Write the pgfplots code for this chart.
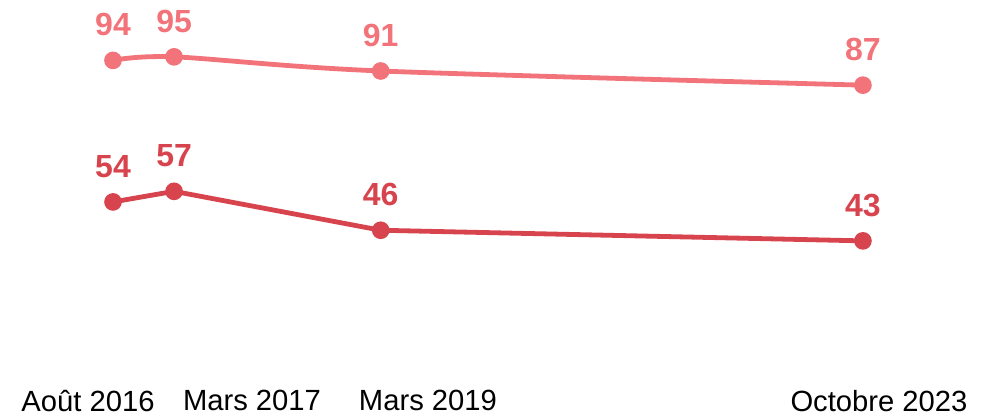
\documentclass[border=0pt]{standalone}
\usepackage{pgfplots}
\pgfplotsset{compat=1.18}
\usepackage{fontspec}
\setmainfont{Liberation Sans}
\definecolor{toplight}{HTML}{F2737A}
\definecolor{botdark}{HTML}{D7444E}
\begin{document}
\begin{tikzpicture}
  \begin{axis}[
    scale only axis,
    width=494.5pt,
    height=192pt,
    xmin=-12.96, xmax=100.46,
    ymin=2.5, ymax=111,
    axis line style={draw=none},
    major tick length=0pt,
    clip=false,
    xtick={-2.87,15.94,36.12,87.84},
    xticklabels={Août 2016,Mars 2017,Mars 2019,Octobre 2023},
    ytick=\empty,
    /pgf/number format/assume math mode=true,
    x tick label style={font=\fontsize{14.6}{16}\selectfont,anchor=north,yshift=0.5pt},
    nodes near coords,
    every node near coord/.append style={font=\fontsize{16}{17}\selectfont\bfseries,anchor=south,yshift=7.5pt},
  ]
    \path (rel axis cs:0,0) rectangle (rel axis cs:1,1);
    \addplot[toplight,line width=2.4pt,smooth,tension=0.5,mark=*,mark size=3.2pt,
      every node near coord/.append style={text=toplight}]
      coordinates {(0,94) (7,95) (30.7,91) (86,87)};
    \addplot[botdark,line width=2.4pt,mark=*,mark size=3.2pt,
      every node near coord/.append style={text=botdark}]
      coordinates {(0,54) (7,57) (30.7,46) (86,43)};
  \end{axis}
\end{tikzpicture}
\end{document}
